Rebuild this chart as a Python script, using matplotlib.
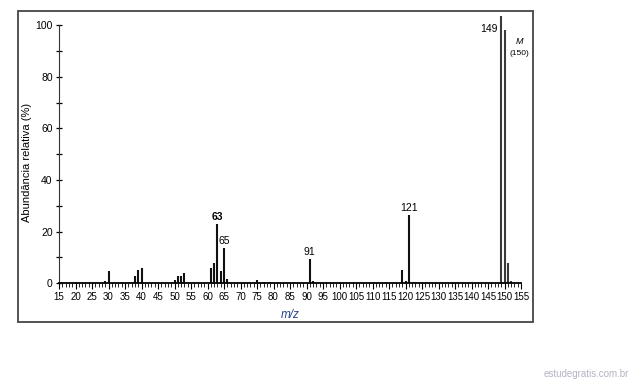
import matplotlib.pyplot as plt
from matplotlib.patches import Rectangle
from matplotlib.ticker import MultipleLocator

plt.rcParams['font.family'] = ['Liberation Sans', 'DejaVu Sans']

# m/z peaks and relative abundance (%)
mz = [29, 30, 38, 39, 40, 50, 51, 52, 53, 61, 62, 63, 64, 65, 66, 75, 77, 79,
      91, 92, 119, 120, 121, 149, 150, 151, 152]
abund = [1.0, 4.9, 2.8, 5.0, 6.0, 1.2, 2.7, 2.7, 3.9, 5.8, 7.8, 22.9, 4.8, 13.8, 1.7, 1.4, 0.6, 0.6,
         9.4, 1.0, 5.2, 0.8, 26.5, 103.5, 98.0, 8.0, 0.8]

labelled = ['63', '65', '91', '121']
labelled_mz = [63, 65, 91, 121]

fig = plt.figure(figsize=(6.31, 3.82), dpi=100)
ax = fig.add_axes([59 / 631, 1 - 283.3 / 382, 462 / 631, 268.6 / 382])

ax.vlines(mz[:23], 0, abund[:23], colors='#111111', lw=1.5)
ax.vlines(mz[23:], 0, abund[23:], colors='#3a3a3a', lw=1.5)

ax.set_xlim(15, 155)
ax.set_ylim(0, 104)
ax.spines['top'].set_visible(False)
ax.spines['right'].set_visible(False)
ax.spines['left'].set_bounds(0, 100)
ax.spines['left'].set_color('#333333')
ax.spines['bottom'].set_linewidth(1.3)

ax.xaxis.set_major_locator(MultipleLocator(5))
ax.xaxis.set_minor_locator(MultipleLocator(1))
ax.yaxis.set_major_locator(MultipleLocator(20))
ax.yaxis.set_minor_locator(MultipleLocator(10))
ax.tick_params(axis='x', which='major', direction='out', length=4, width=0.8, pad=2, labelsize=7)
ax.tick_params(axis='x', which='minor', direction='out', length=3, width=0.6)
ax.tick_params(axis='y', which='both', direction='inout', length=5, width=0.9, pad=2, labelsize=7.5)

ax.set_ylabel('Abundância relativa (%)', fontsize=8)
ax.yaxis.set_label_coords(-0.058, 0.45)
ax.set_xlabel('m/z', fontsize=8.5, style='italic', color='#27408b', labelpad=5)

for name, m in zip(labelled, labelled_mz):
    ax.text(m, abund[mz.index(m)] + 0.8, name, ha='center', va='bottom', fontsize=7.5,
            fontweight='bold' if name == '63' else 'normal')
ax.text(147.8, 98.5, '149', ha='right', va='center', fontsize=7.5)
ax.text(154.5, 93.5, 'M', ha='center', va='center', fontsize=6.5, style='italic')
ax.text(154.5, 89, '(150)', ha='center', va='center', fontsize=6)

# outer frame of the figure panel
fig.patches.append(Rectangle((18 / 631, 1 - 322 / 382), 515 / 631, 311 / 382,
                             transform=fig.transFigure, fill=False, edgecolor='#444444', lw=1.3))

fig.text(629 / 631, 1 - 374 / 382, 'estudegratis.com.br', ha='right', va='center',
         fontsize=7, color='#b4b4c4')

plt.savefig('out.png', dpi=100)
